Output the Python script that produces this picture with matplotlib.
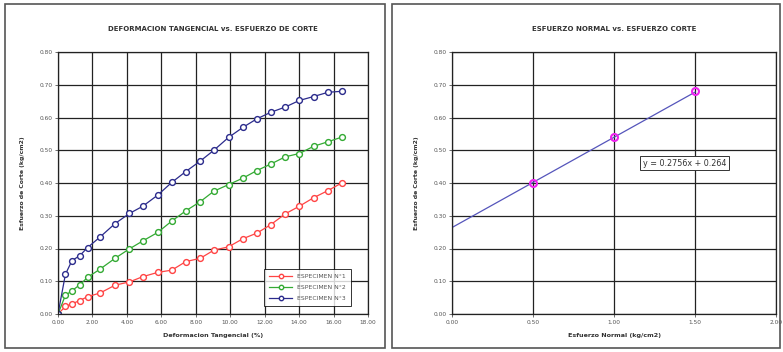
import matplotlib
matplotlib.use("Agg")
import matplotlib.pyplot as plt
from matplotlib.patches import Rectangle
import numpy as np

# ---------------- data ----------------
deform = [0, 0.43, 0.81, 1.26, 1.72, 2.44, 3.31, 4.15, 4.92, 5.79, 6.61, 7.42,
          8.26, 9.05, 9.90, 10.74, 11.55, 12.36, 13.20, 14.01, 14.84, 15.68, 16.47]
esp1 = [0, 0.023, 0.031, 0.041, 0.053, 0.064, 0.088, 0.098, 0.114, 0.127, 0.134, 0.160,
        0.170, 0.195, 0.205, 0.230, 0.247, 0.273, 0.306, 0.329, 0.355, 0.377, 0.400]
esp2 = [0, 0.057, 0.071, 0.089, 0.112, 0.137, 0.170, 0.199, 0.223, 0.249, 0.284, 0.315,
        0.343, 0.375, 0.395, 0.415, 0.438, 0.458, 0.480, 0.490, 0.512, 0.526, 0.540]
esp3 = [0, 0.121, 0.163, 0.178, 0.203, 0.235, 0.276, 0.307, 0.329, 0.363, 0.402, 0.435,
        0.467, 0.500, 0.539, 0.570, 0.596, 0.616, 0.632, 0.652, 0.664, 0.677, 0.680]
series_labels = ["ESPECIMEN N°1", "ESPECIMEN N°2", "ESPECIMEN N°3"]

normal = [0.5, 1.0, 1.5]
corte = [0.40, 0.54, 0.68]
slope, intercept = 0.2756, 0.264

left_xticks = [0, 2, 4, 6, 8, 10, 12, 14, 16, 18]
yticks = [0, 0.1, 0.2, 0.3, 0.4, 0.5, 0.6, 0.7, 0.8]
right_xticks = [0, 0.5, 1.0, 1.5, 2.0]

W, H = 783, 352
fig = plt.figure(figsize=(W / 100, H / 100), dpi=100)
fig.patch.set_facecolor("white")

# panel frames
for (x0, x1) in [(5, 385), (392, 780)]:
    fig.add_artist(Rectangle((x0 / W, 4 / H), (x1 - x0) / W, (H - 8) / H,
                             transform=fig.transFigure, fill=False,
                             edgecolor="#555555", linewidth=1.2))

def style(ax):
    ax.set_facecolor("white")
    ax.grid(True, color="#222222", linewidth=0.9)
    ax.set_axisbelow(True)
    for s in ax.spines.values():
        s.set_color("#222222")
        s.set_linewidth(0.9)
    ax.tick_params(labelsize=4.2, length=2, width=0.6, colors="#555555", pad=2)
    ax.set_yticks(yticks)
    ax.set_yticklabels([f"{v:.2f}" for v in yticks])
    ax.set_ylim(0, 0.8)

# ---------------- left ----------------
axL = fig.add_axes([58 / W, (H - 314) / H, (368 - 58) / W, (314 - 52) / H])
style(axL)
colors = ["#FF4444", "#33AA33", "#2B2B8C"]
for ys, c, lab in zip([esp1, esp2, esp3], colors, series_labels):
    axL.plot(deform, ys, color=c, linewidth=0.9, marker="o", markersize=4.2,
             markerfacecolor="white", markeredgecolor=c, markeredgewidth=1.0,
             label=lab)
axL.set_xlim(0, 18)
axL.set_xticks(left_xticks)
axL.set_xticklabels([f"{v:.2f}" for v in left_xticks])
axL.set_title("DEFORMACION TANGENCIAL vs. ESFUERZO DE CORTE", fontsize=5,
              fontweight="bold", pad=15, color="#333333")
axL.set_xlabel("Deformacion Tangencial (%)", fontsize=4.6, fontweight="bold",
               color="#333333", labelpad=6)
axL.set_ylabel("Esfuerzo de Corte (kg/cm2)", fontsize=4.4, fontweight="bold",
               color="#333333", labelpad=10)
leg = axL.legend(loc="lower right", fontsize=4.4, frameon=True, fancybox=False,
                 edgecolor="black", borderpad=0.8, labelspacing=0.9,
                 handlelength=3.8, markerscale=0.75, bbox_to_anchor=(0.955, 0.02))
leg.get_frame().set_linewidth(0.7)
for t in leg.get_texts():
    t.set_color("#555555")

# ---------------- right ----------------
axR = fig.add_axes([452 / W, (H - 314) / H, (776 - 452) / W, (314 - 52) / H])
style(axR)
xt = np.array([0.0, normal[-1]])
axR.plot(xt, slope * xt + intercept, color="#5555BB", linewidth=0.9)
axR.plot(normal, corte, linestyle="none", marker="o", markersize=5,
         markerfacecolor="none", markeredgecolor="#EE22EE", markeredgewidth=1.5)
axR.set_xlim(0, 2)
axR.set_xticks(right_xticks)
axR.set_xticklabels([f"{v:.2f}" for v in right_xticks])
axR.set_title("ESFUERZO NORMAL vs. ESFUERZO CORTE", fontsize=5,
              fontweight="bold", pad=15, color="#333333")
axR.set_xlabel("Esfuerzo Normal (kg/cm2)", fontsize=4.6, fontweight="bold",
               color="#333333", labelpad=6)
axR.set_ylabel("Esfuerzo de Corte (kg/cm2)", fontsize=4.4, fontweight="bold",
               color="#333333", labelpad=10)
axR.text(1.435, 0.46, f"y = {slope}x + {intercept}", fontsize=5.8,
         ha="center", va="center", color="#333333",
         bbox=dict(boxstyle="square,pad=0.3", facecolor="white",
                   edgecolor="#333333", linewidth=0.7))

fig.savefig("out.png", dpi=100)
